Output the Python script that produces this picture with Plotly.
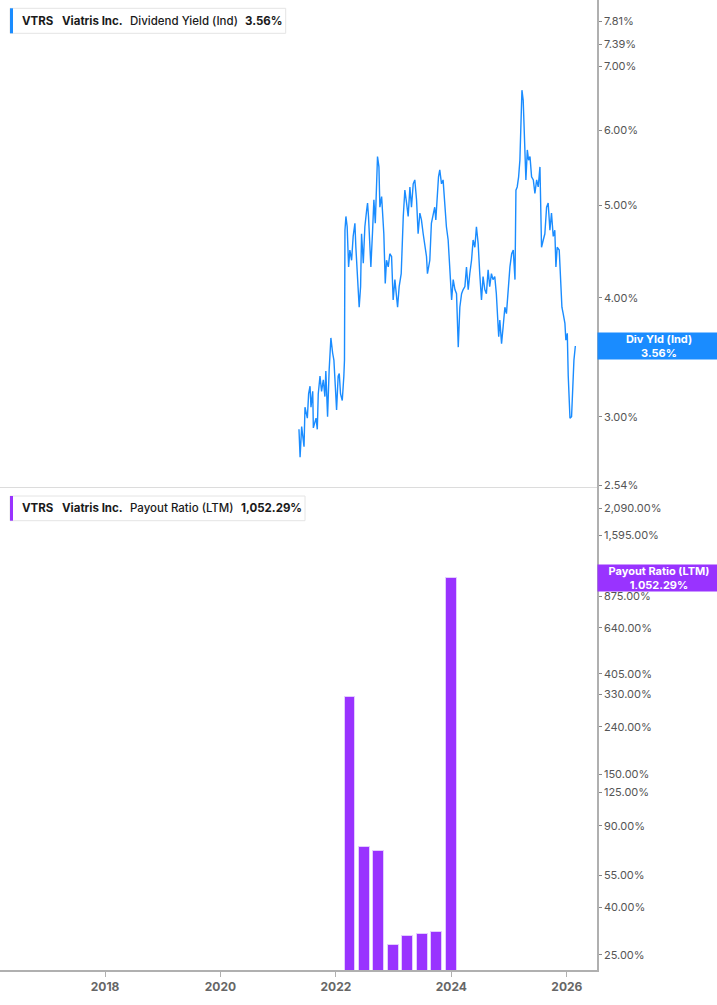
import plotly.graph_objects as go

# ---------------- data ----------------
yield_dates = [
    "2021-05-12","2021-05-19","2021-05-29","2021-06-13","2021-06-19","2021-07-04","2021-07-12","2021-07-21",
    "2021-07-27","2021-08-07","2021-08-11","2021-08-28","2021-09-05","2021-09-11","2021-09-22","2021-10-02",
    "2021-10-13","2021-10-23","2021-10-29","2021-11-09","2021-11-19","2021-11-30","2021-12-11","2021-12-19",
    "2021-12-28","2022-01-05","2022-01-15","2022-01-22","2022-01-30","2022-02-10","2022-02-20","2022-02-24",
    "2022-02-27","2022-03-05","2022-03-13","2022-03-22","2022-03-30","2022-04-10","2022-04-20","2022-05-01",
    "2022-05-07","2022-05-16","2022-05-22","2022-05-28","2022-06-06","2022-06-12","2022-06-23","2022-07-03",
    "2022-07-14","2022-07-20","2022-07-26","2022-08-04","2022-08-10","2022-08-21","2022-08-29","2022-09-07",
    "2022-09-15","2022-09-21","2022-09-30","2022-10-06","2022-10-17","2022-10-23","2022-10-31","2022-11-09",
    "2022-11-17","2022-11-28","2022-12-08","2022-12-19","2022-12-29","2023-01-09","2023-01-20","2023-01-26",
    "2023-02-05","2023-02-18","2023-03-03","2023-03-13","2023-03-24","2023-04-03","2023-04-14","2023-04-24",
    "2023-05-05","2023-05-15","2023-05-26","2023-06-05","2023-06-16","2023-06-26","2023-07-07","2023-07-17",
    "2023-07-28","2023-08-03","2023-08-18","2023-08-28","2023-09-08","2023-09-18","2023-09-25","2023-10-03",
    "2023-10-12","2023-10-20","2023-10-31","2023-11-10","2023-11-21","2023-12-01","2023-12-12","2023-12-22",
    "2024-01-03","2024-01-13","2024-01-24","2024-02-03","2024-02-14","2024-02-24","2024-03-06","2024-03-16",
    "2024-03-27","2024-04-06","2024-04-17","2024-04-27","2024-05-08","2024-05-18","2024-05-29","2024-06-08",
    "2024-06-19","2024-06-29","2024-07-10","2024-07-20","2024-07-31","2024-08-10","2024-08-21","2024-08-31",
    "2024-09-11","2024-09-21","2024-10-02","2024-10-12","2024-10-19","2024-10-27","2024-11-03","2024-11-14",
    "2024-11-24","2024-12-05","2024-12-15","2024-12-26","2025-01-06","2025-01-17","2025-01-27","2025-02-07",
    "2025-02-13","2025-02-21","2025-03-02","2025-03-10","2025-03-17","2025-03-23","2025-03-31","2025-04-11",
    "2025-04-17","2025-04-26","2025-05-04","2025-05-13","2025-05-23","2025-06-03","2025-06-13","2025-06-24",
    "2025-07-04","2025-07-15","2025-07-25","2025-08-05","2025-08-15","2025-08-26","2025-09-05","2025-09-16",
    "2025-09-26","2025-10-07","2025-10-17","2025-10-24","2025-11-01","2025-11-14","2025-11-22","2025-12-01",
    "2025-12-09","2025-12-20","2025-12-26","2026-01-04","2026-01-10","2026-01-21","2026-01-31","2026-02-07",
    "2026-02-15","2026-02-24",
]
yield_values = [
    2.91, 2.72, 2.93, 2.79, 3.07, 2.99, 3.17, 3.23,
    3.07, 3.19, 2.92, 2.99, 2.91, 3.17, 3.31, 3.19,
    3.28, 3.15, 3.35, 3.00, 3.36, 3.63, 3.50, 3.44,
    3.23, 3.05, 3.31, 3.33, 3.17, 3.12, 3.31, 3.44,
    4.71, 4.87, 4.75, 4.31, 4.49, 4.38, 4.64, 4.79,
    4.52, 4.24, 4.08, 3.91, 4.11, 4.67, 4.35, 4.75,
    4.94, 5.03, 4.87, 4.56, 4.31, 4.71, 5.07, 4.79,
    5.36, 5.63, 5.49, 4.98, 5.11, 4.87, 4.67, 4.14,
    4.38, 4.31, 4.45, 4.42, 3.98, 4.18, 4.04, 3.91,
    4.11, 4.24, 4.87, 5.19, 5.03, 4.87, 5.23, 4.98,
    5.27, 5.32, 5.07, 4.67, 4.91, 4.83, 4.67, 4.52,
    4.42, 4.24, 4.38, 4.79, 4.91, 4.98, 4.83, 5.11,
    5.36, 5.45, 5.27, 5.32, 4.98, 4.75, 4.60, 4.31,
    3.98, 4.18, 4.08, 4.04, 3.55, 3.91, 4.04, 4.08,
    4.11, 4.31, 4.08, 4.24, 4.38, 4.60, 4.52, 4.75,
    4.56, 4.24, 3.98, 4.21, 4.08, 4.04, 4.28, 4.11,
    4.24, 4.18, 4.21, 4.04, 3.85, 3.64, 3.79, 3.58,
    3.73, 3.91, 3.85, 4.11, 4.31, 4.45, 4.49, 4.18,
    5.19, 5.23, 5.36, 5.58, 6.15, 6.61, 6.45, 5.58,
    5.32, 5.72, 5.58, 5.63, 5.36, 5.32, 5.15, 5.32,
    5.23, 5.49, 4.52, 4.60, 4.67, 4.98, 5.03, 4.71,
    4.91, 4.64, 4.71, 4.31, 4.52, 4.49, 4.11, 3.91,
    3.85, 3.76, 3.61, 3.67, 3.31, 2.99, 3.00, 3.23,
    3.44, 3.56,
]

payout_dates = ["2022-03-31", "2022-06-30", "2022-09-30", "2022-12-31",
                "2023-03-31", "2023-06-30", "2023-09-30", "2023-12-31"]
payout_values = [323.5, 72.7, 70.3, 27.6, 30.2, 30.9, 31.3, 1052.29]

yield_tickvals = [2.54, 3.00, 4.00, 5.00, 6.00, 7.00, 7.39, 7.81]
yield_ticktext = ["2.54%", "3.00%", "4.00%", "5.00%", "6.00%", "7.00%", "7.39%", "7.81%"]
payout_tickvals = [25, 40, 55, 90, 125, 150, 240, 330, 405, 640, 875, 1595, 2090]
payout_ticktext = ["25.00%", "40.00%", "55.00%", "90.00%", "125.00%", "150.00%", "240.00%",
                   "330.00%", "405.00%", "640.00%", "875.00%", "1,595.00%", "2,090.00%"]

ticker = "VTRS"
company = "Viatris Inc."
yield_name = "Dividend Yield (Ind)"
payout_name = "Payout Ratio (LTM)"
yield_last = "3.56%"
payout_last = "1,052.29%"

# ---------------- style ----------------
BLUE = "#1a8cff"
PURPLE = "#9933ff"
W, H = 717, 1005
ML, MR, MT, MB = 0, 120, 0, 35
PW, PH = W - ML - MR, H - MT - MB
SPLIT = 487  # pixel y of panel separator


def px(x):
    return x / PW


def py(y):
    return 1 - y / PH


FONT = "Inter, Roboto, sans-serif"

fig = go.Figure()
fig.add_trace(go.Scatter(x=yield_dates, y=yield_values, mode="lines",
                         line=dict(color=BLUE, width=1.4), xaxis="x", yaxis="y",
                         hoverinfo="skip", showlegend=False))
fig.add_trace(go.Bar(x=payout_dates, y=payout_values, xaxis="x2", yaxis="y2",
                     marker=dict(color=PURPLE, line=dict(color="rgba(230,210,255,0.9)", width=1)),
                     width=69 * 86400000, hoverinfo="skip", showlegend=False))

xrange = ["2016-03-07", "2026-07-11"]
top_dom = [py(SPLIT), 1]
bot_dom = [0, py(SPLIT)]

axis_common = dict(showgrid=False, zeroline=False)
fig.update_layout(
    width=W, height=H,
    margin=dict(l=ML, r=MR, t=MT, b=MB),
    paper_bgcolor="white", plot_bgcolor="white",
    font=dict(family=FONT),
    xaxis=dict(domain=[0, 1], anchor="y", range=xrange, type="date", matches="x2",
               showticklabels=False, ticks="", showline=True, linecolor="#dcdcdc",
               linewidth=1, **axis_common),
    xaxis2=dict(domain=[0, 1], anchor="y2", range=xrange, type="date",
                tick0="2018-01-01", dtick="M24", tickformat="%Y",
                ticks="outside", ticklen=5, tickcolor="#b0b0b0",
                showline=True, linecolor="#b0b0b0", linewidth=1.5,
                tickfont=dict(family=FONT, size=12, color="#666666", weight="bold"),
                **axis_common),
    yaxis=dict(domain=top_dom, anchor="x", type="log", side="right",
               range=[0.4033, 0.9149], tickvals=yield_tickvals, ticktext=yield_ticktext,
               ticks="outside", ticklen=3, tickcolor="#888888",
               showline=True, linecolor="#b0b0b0", linewidth=1.5,
               tickfont=dict(family=FONT, size=11, color="#555555"), **axis_common),
    yaxis2=dict(domain=bot_dom, anchor="x2", type="log", side="right",
                range=[1.3333, 3.4121], tickvals=payout_tickvals, ticktext=payout_ticktext,
                ticks="outside", ticklen=3, tickcolor="#888888",
                showline=True, linecolor="#b0b0b0", linewidth=1.5,
                tickfont=dict(family=FONT, size=11, color="#555555"), **axis_common),
    bargap=0,
)

shapes = []
annotations = []


def legend_box(x0, x1, y0, y1, color, pieces):
    shapes.append(dict(type="rect", xref="paper", yref="paper",
                       x0=px(x0), x1=px(x1), y0=py(y1), y1=py(y0),
                       fillcolor="white", line=dict(color="#e4e4e4", width=1), layer="above"))
    shapes.append(dict(type="rect", xref="paper", yref="paper",
                       x0=px(x0), x1=px(x0 + 3), y0=py(y1), y1=py(y0),
                       fillcolor=color, line=dict(width=0), layer="above"))
    yc = (y0 + y1) / 2
    for xpos, txt, bold in pieces:
        annotations.append(dict(xref="paper", yref="paper", x=px(xpos), y=py(yc),
                                xanchor="left", yanchor="middle", showarrow=False,
                                text=txt,
                                font=dict(family=FONT, size=11.5, color="#1a1a1a",
                                          weight=700 if bold else 500)))


legend_box(10, 285.7, 8.3, 33.3, BLUE,
           [(20, ticker, True), (60, company, True), (128, yield_name, False), (243, yield_last, True)])
legend_box(10, 305, 496, 520.7, PURPLE,
           [(20, ticker, True), (60, company, True), (128, payout_name, False), (239, payout_last, True)])

# right-hand value labels
annotations.append(dict(xref="paper", yref="y", x=1, y=0.551450, xanchor="left", yanchor="middle",
                        showarrow=False, text="<b>Div Yld (Ind)</b><br><b>3.56%</b>",
                        font=dict(family=FONT, size=11, color="white"), bgcolor=BLUE,
                        width=118, height=22, borderpad=2, align="center"))
annotations.append(dict(xref="paper", yref="y2", x=1, y=3.022136, xanchor="left", yanchor="middle",
                        showarrow=False, text="<b>Payout Ratio (LTM)</b><br><b>1,052.29%</b>",
                        font=dict(family=FONT, size=11, color="white"), bgcolor=PURPLE,
                        width=118, height=22, borderpad=2, align="center"))

fig.update_layout(shapes=shapes, annotations=annotations)
fig.write_html("out.html", config={"displayModeBar": False},
               post_script="document.body.style.margin='0';document.body.style.padding='0';")
